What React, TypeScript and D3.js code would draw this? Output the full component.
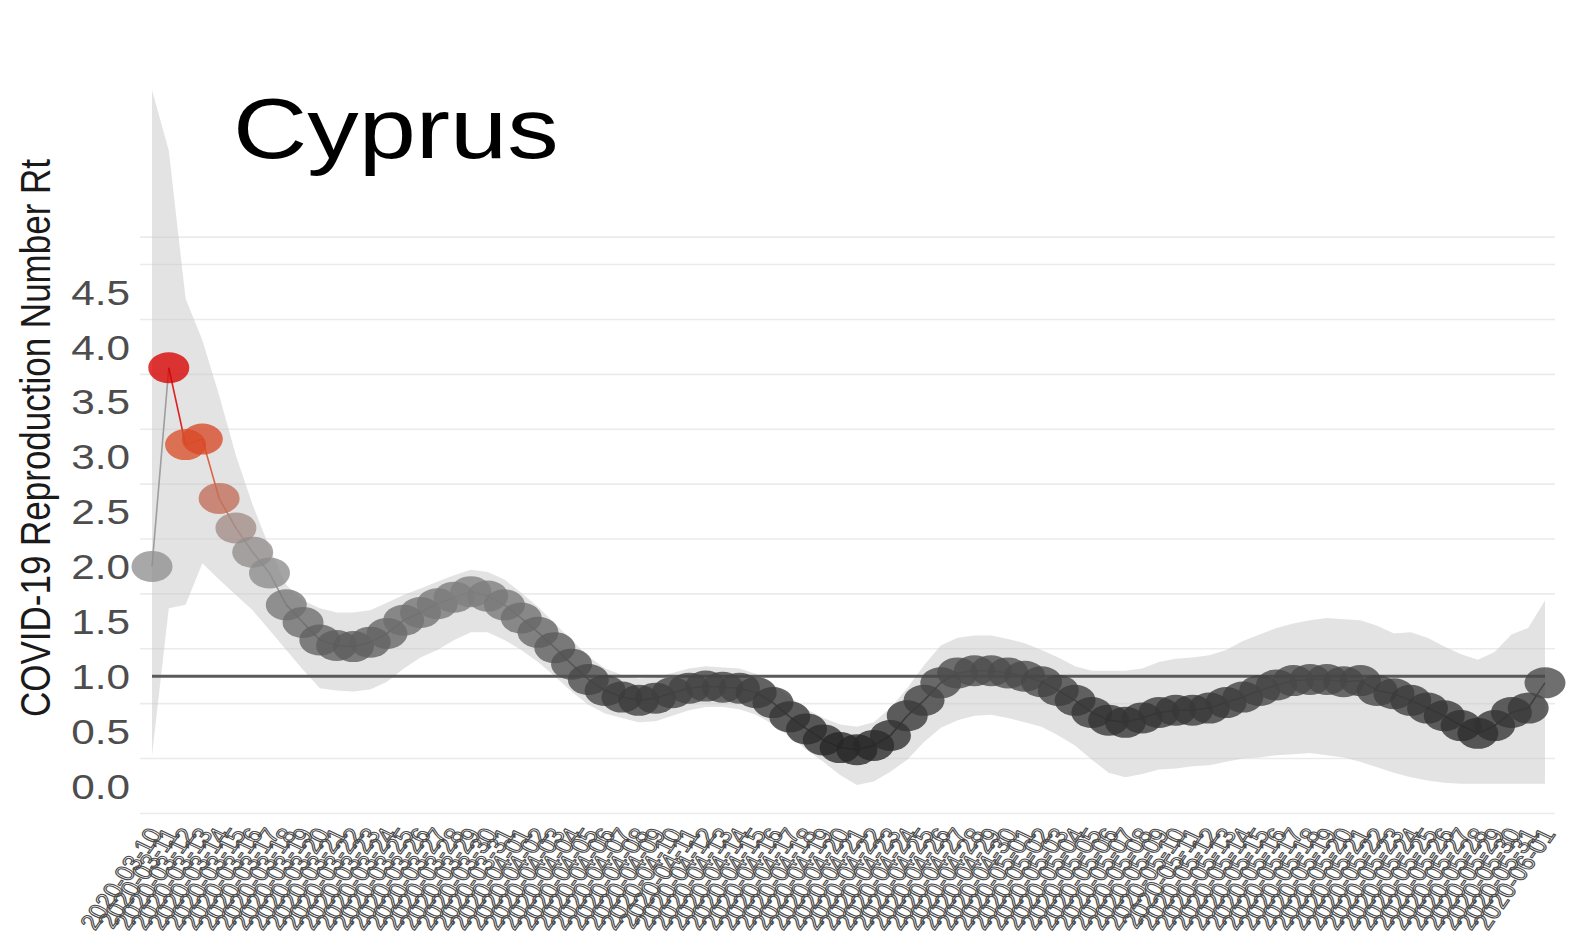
import React, { useEffect } from "react";
import * as d3 from "d3";

// ---------- data ----------
const countryName = "Cyprus";
const yAxisTitle = "COVID-19 Reproduction Number Rt";
const firstDate = "2020-03-10";
const lastDate = "2020-06-01";
const parseDate = d3.utcParse("%Y-%m-%d");
const fmtDate = d3.utcFormat("%Y-%m-%d");
const dates: string[] = d3.utcDay
  .range(parseDate(firstDate)!, d3.utcDay.offset(parseDate(lastDate)!, 1))
  .map(fmtDate);

const rt = [
  2.0, 3.81, 3.11, 3.16, 2.62, 2.35, 2.13, 1.94, 1.65, 1.49,
  1.33, 1.28, 1.27, 1.31, 1.39, 1.51, 1.58, 1.66, 1.72, 1.77,
  1.73, 1.65, 1.53, 1.40, 1.26, 1.11, 0.97, 0.87, 0.81, 0.78,
  0.80, 0.85, 0.89, 0.91, 0.90, 0.89, 0.85, 0.76, 0.63, 0.52,
  0.42, 0.35, 0.33, 0.37, 0.46, 0.64, 0.78, 0.94, 1.03, 1.05,
  1.05, 1.03, 1.00, 0.95, 0.87, 0.78, 0.67, 0.60, 0.58, 0.62,
  0.67, 0.69, 0.69, 0.71, 0.76, 0.81, 0.87, 0.92, 0.96, 0.97,
  0.97, 0.95, 0.96, 0.87, 0.84, 0.78, 0.71, 0.64, 0.55, 0.48,
  0.55, 0.67, 0.71, 0.94,
];

const upper = [
  6.34, 5.79, 4.44, 4.06, 3.56, 3.01, 2.56, 2.17, 1.83, 1.69,
  1.62, 1.58, 1.58, 1.60, 1.67, 1.74, 1.80, 1.86, 1.92, 1.97,
  1.95, 1.88, 1.76, 1.63, 1.48, 1.33, 1.18, 1.07, 1.01, 0.98,
  0.99, 1.03, 1.07, 1.09, 1.08, 1.07, 1.02, 0.93, 0.81, 0.70,
  0.62, 0.56, 0.54, 0.58, 0.71, 0.89, 1.10, 1.28, 1.35, 1.37,
  1.37, 1.34, 1.30, 1.24, 1.17, 1.09, 1.05, 1.05, 1.05, 1.07,
  1.13, 1.16, 1.17, 1.19, 1.24, 1.32, 1.38, 1.44, 1.48, 1.51,
  1.53, 1.52, 1.51, 1.46, 1.39, 1.40, 1.35, 1.27, 1.20, 1.15,
  1.22, 1.38, 1.44, 1.69,
];

const lower = [
  0.28, 1.62, 1.65, 2.03, 1.88, 1.74, 1.60, 1.42, 1.24, 1.06,
  0.89, 0.87, 0.86, 0.88, 0.95, 1.07, 1.17, 1.24, 1.33, 1.40,
  1.40, 1.33, 1.24, 1.13, 1.00, 0.86, 0.74, 0.66, 0.62, 0.58,
  0.59, 0.64, 0.69, 0.72, 0.72, 0.70, 0.65, 0.56, 0.45, 0.33,
  0.22, 0.10, 0.01, 0.04, 0.13, 0.24, 0.40, 0.53, 0.60, 0.64,
  0.65, 0.62, 0.58, 0.54, 0.46, 0.37, 0.24, 0.12, 0.08, 0.11,
  0.15, 0.16, 0.18, 0.19, 0.22, 0.25, 0.26, 0.28, 0.29, 0.30,
  0.28, 0.26, 0.22, 0.17, 0.12, 0.08, 0.05, 0.03, 0.02, 0.02,
  0.02, 0.02, 0.02, 0.02,
];

const yTicks = [0, 0.5, 1.0, 1.5, 2.0, 2.5, 3.0, 3.5, 4.0, 4.5];
const gridValues = [-0.25, 0.25, 0.75, 1.25, 1.75, 2.25, 2.75, 3.25, 3.75, 4.25, 4.75, 5.0];
const referenceRt = 1.0;

const colorStops = [0.3, 0.8, 1.3, 1.7, 2.0, 2.2, 2.4, 2.65, 3.1, 3.8];
const colorRange = [
  "#252525", "#3c3c3c", "#5e5e5e", "#7a7a7a", "#909090",
  "#938c8c", "#a88c84", "#c46a52", "#d8502a", "#d80000",
];

// ---------- layout ----------
const W = 1570;
const H = 941;
const X0 = 152;
const X1 = 1545;
const STRETCH = 1.21;

export default function App() {
  useEffect(() => {
    document.body.style.margin = "0";
  }, []);

  const x = d3.scalePoint<string>().domain(dates).range([X0, X1]);
  const y = d3.scaleLinear().domain([0, 4.5]).range([786, 292]);
  const color = d3
    .scaleLinear<string>()
    .domain(colorStops)
    .range(colorRange)
    .clamp(true);

  const rows = dates.map((d, i) => ({ d, v: rt[i], lo: lower[i], hi: upper[i] }));

  const area = d3
    .area<(typeof rows)[number]>()
    .x((r) => x(r.d)!)
    .y0((r) => y(r.lo))
    .y1((r) => y(r.hi));

  const font = "'Liberation Sans', Arial, Helvetica, sans-serif";

  return (
    <svg width={W} height={H} style={{ display: "block", background: "#fff" }}>
      {/* grid */}
      {gridValues.map((g) => (
        <line key={g} x1={140} x2={1555} y1={y(g)} y2={y(g)} stroke="#ebebeb" strokeWidth={1.6} />
      ))}

      {/* ribbon */}
      <path d={area(rows)!} fill="#c8c8c8" fillOpacity={0.5} />

      {/* reference line */}
      <line x1={X0} x2={X1} y1={y(referenceRt)} y2={y(referenceRt)} stroke="#5a5a5a" strokeWidth={3} />

      {/* connecting segments */}
      {rows.slice(0, -1).map((r, i) => (
        <line
          key={"s" + i}
          x1={x(r.d)}
          y1={y(r.v)}
          x2={x(rows[i + 1].d)}
          y2={y(rows[i + 1].v)}
          stroke={color(r.v)}
          strokeWidth={1.6}
          strokeOpacity={0.85}
        />
      ))}

      {/* points */}
      {rows.map((r) => (
        <ellipse
          key={r.d}
          cx={x(r.d)}
          cy={y(r.v)}
          rx={20.5}
          ry={15.5}
          fill={color(r.v)}
          fillOpacity={0.78}
        />
      ))}

      {/* y tick labels */}
      {yTicks.map((t) => (
        <text
          key={t}
          transform={`translate(130,${y(t)}) scale(${STRETCH},1)`}
          textAnchor="end"
          dy="0.36em"
          fontFamily={font}
          fontSize={35}
          fill="#4d4d4d"
        >
          {d3.format(".1f")(t)}
        </text>
      ))}

      {/* x tick labels */}
      {dates.map((d) => (
        <text
          key={"x" + d}
          transform={`translate(${x(d)! + 3},830) scale(${STRETCH},1) rotate(-60)`}
          textAnchor="end"
          dy="0.35em"
          fontFamily={font}
          fontSize={22}
          fill="none"
          stroke="#4a4a4a"
          strokeWidth={1}
        >
          {d}
        </text>
      ))}

      {/* y axis title */}
      <text
        transform={`translate(50,438) rotate(-90) scale(1,${STRETCH})`}
        textAnchor="middle"
        fontFamily={font}
        fontSize={35}
        fill="#1a1a1a"
      >
        {yAxisTitle}
      </text>

      {/* title */}
      <text
        transform={`translate(233,158) scale(${STRETCH},1)`}
        fontFamily={font}
        fontSize={85}
        fill="#000"
      >
        {countryName}
      </text>
    </svg>
  );
}
